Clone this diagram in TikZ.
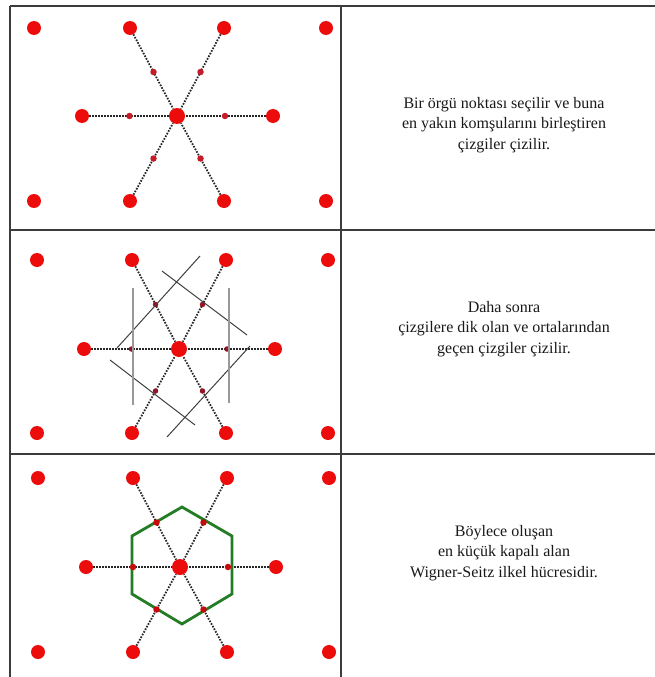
\documentclass[tikz,border=0pt]{standalone}
\usepackage{fontspec}
\setmainfont{Liberation Serif}
\usetikzlibrary{calc}
\definecolor{dotred}{RGB}{236,12,12}
\definecolor{midred}{RGB}{196,28,40}
\definecolor{darkmid}{RGB}{150,20,40}
\definecolor{hexgreen}{RGB}{36,124,36}
\definecolor{rulecol}{RGB}{60,60,60}
\begin{document}
\begin{tikzpicture}[x=1pt,y=-1pt,
  site/.style={circle,fill=dotred,inner sep=0pt,minimum size=14pt},
  origin/.style={circle,fill=dotred,inner sep=0pt,minimum size=16pt},
  midpt/.style={circle,fill=midred,inner sep=0pt,minimum size=6.5pt},
  bond/.style={line width=1.8pt,black!85,dash pattern=on 1.6pt off 1.4pt},
  perp/.style={line width=1pt,black!75},
  vperp/.style={line width=1.5pt,black!40},
  hexline/.style={line width=2.8pt,hexgreen,line join=miter},
  frame/.style={line width=1.3pt,rulecol},
  txt/.style={align=center,text=black!90,font=\fontsize{16}{20.5}\selectfont,inner sep=0pt}]
\useasboundingbox (0,0) rectangle (655,677);
\fill[white] (0,0) rectangle (655,677);
% table
\draw[frame] (10,6) -- (655,6);
\draw[frame] (10,230) -- (655,230);
\draw[frame] (10,454) -- (655,454);
\draw[frame] (10,6) -- (10,677);
\draw[frame] (341,6) -- (341,677);

% ---------- panel 1 ----------
\node[site] (p1tl) at (34,28) {};
\node[site] (p1a) at (130,28) {};
\node[site] (p1b) at (224,28) {};
\node[site] (p1tr) at (326,28) {};
\node[site] (p1l) at (82,116) {};
\node[origin] (p1c) at (177,116) {};
\node[site] (p1r) at (273,116) {};
\node[site] (p1bl) at (34,201) {};
\node[site] (p1d) at (130,201) {};
\node[site] (p1e) at (224,201) {};
\node[site] (p1br) at (326,201) {};
\foreach \n in {a,b,l,r,d,e}{\draw[bond] (p1\n) -- (p1c);}
\foreach \n in {a,b,l,r,d,e}{\node[midpt] (p1m\n) at ($(p1\n)!0.5!(p1c)$) {};}
\node[txt] (t1) at (504,125) {Bir örgü noktası seçilir ve buna\\en yakın komşularını birleştiren\\çizgiler çizilir.};

% ---------- panel 2 ----------
\node[site] (p2tl) at (37,260) {};
\node[site] (p2a) at (132,260) {};
\node[site] (p2b) at (226,260) {};
\node[site] (p2tr) at (328,260) {};
\node[site] (p2l) at (84,349) {};
\node[origin] (p2c) at (179,349) {};
\node[site] (p2r) at (275,349) {};
\node[site] (p2bl) at (37,433) {};
\node[site] (p2d) at (132,433) {};
\node[site] (p2e) at (226,433) {};
\node[site] (p2br) at (328,433) {};
\foreach \n in {a,b,l,r,d,e}{\draw[bond] (p2\n) -- (p2c);}
\foreach \n in {a,b,l,r,d,e}{\node[midpt,fill=darkmid,minimum size=5.5pt] (p2m\n) at ($(p2\n)!0.5!(p2c)$) {};}
\coordinate (q1s) at (117,348); \coordinate (q1e) at (200,256);
\coordinate (q2s) at (162,271); \coordinate (q2e) at (247,335);
\coordinate (q3s) at (110,360); \coordinate (q3e) at (195,425);
\coordinate (q4s) at (167,437); \coordinate (q4e) at (250,346);
\coordinate (v1s) at (133,288); \coordinate (v1e) at (133,405);
\coordinate (v2s) at (229,288); \coordinate (v2e) at (229,403);
\draw[perp] (q1s) -- (q1e);
\draw[perp] (q2s) -- (q2e);
\draw[perp] (q3s) -- (q3e);
\draw[perp] (q4s) -- (q4e);
\draw[vperp] (v1s) -- (v1e);
\draw[vperp] (v2s) -- (v2e);
\node[txt] (t2) at (504,329) {Daha sonra\\çizgilere dik olan ve ortalarından\\geçen çizgiler çizilir.};

% ---------- panel 3 ----------
\node[site] (p3tl) at (38,478) {};
\node[site] (p3a) at (133,478) {};
\node[site] (p3b) at (227,478) {};
\node[site] (p3tr) at (329,478) {};
\node[site] (p3l) at (86,567) {};
\node[origin] (p3c) at (180,567) {};
\node[site] (p3r) at (276,567) {};
\node[site] (p3bl) at (38,652) {};
\node[site] (p3d) at (133,652) {};
\node[site] (p3e) at (227,652) {};
\node[site] (p3br) at (329,652) {};
\foreach \n in {a,b,l,r,d,e}{\draw[bond] (p3\n) -- (p3c);}
\coordinate (h1) at (182,507);
\coordinate (h2) at (232,536);
\coordinate (h3) at (232,594);
\coordinate (h4) at (182,624);
\coordinate (h5) at (132,594);
\coordinate (h6) at (132,536);
\draw[hexline] (h1) -- (h2) -- (h3) -- (h4) -- (h5) -- (h6) -- cycle;
\foreach \n in {a,b,l,r,d,e}{\node[midpt,fill=dotred!85!black] (p3m\n) at ($(p3\n)!0.5!(p3c)$) {};}
\node[txt] (t3) at (504,553) {Böylece oluşan\\en küçük kapalı alan\\Wigner-Seitz ilkel hücresidir.};
\end{tikzpicture}
\end{document}
